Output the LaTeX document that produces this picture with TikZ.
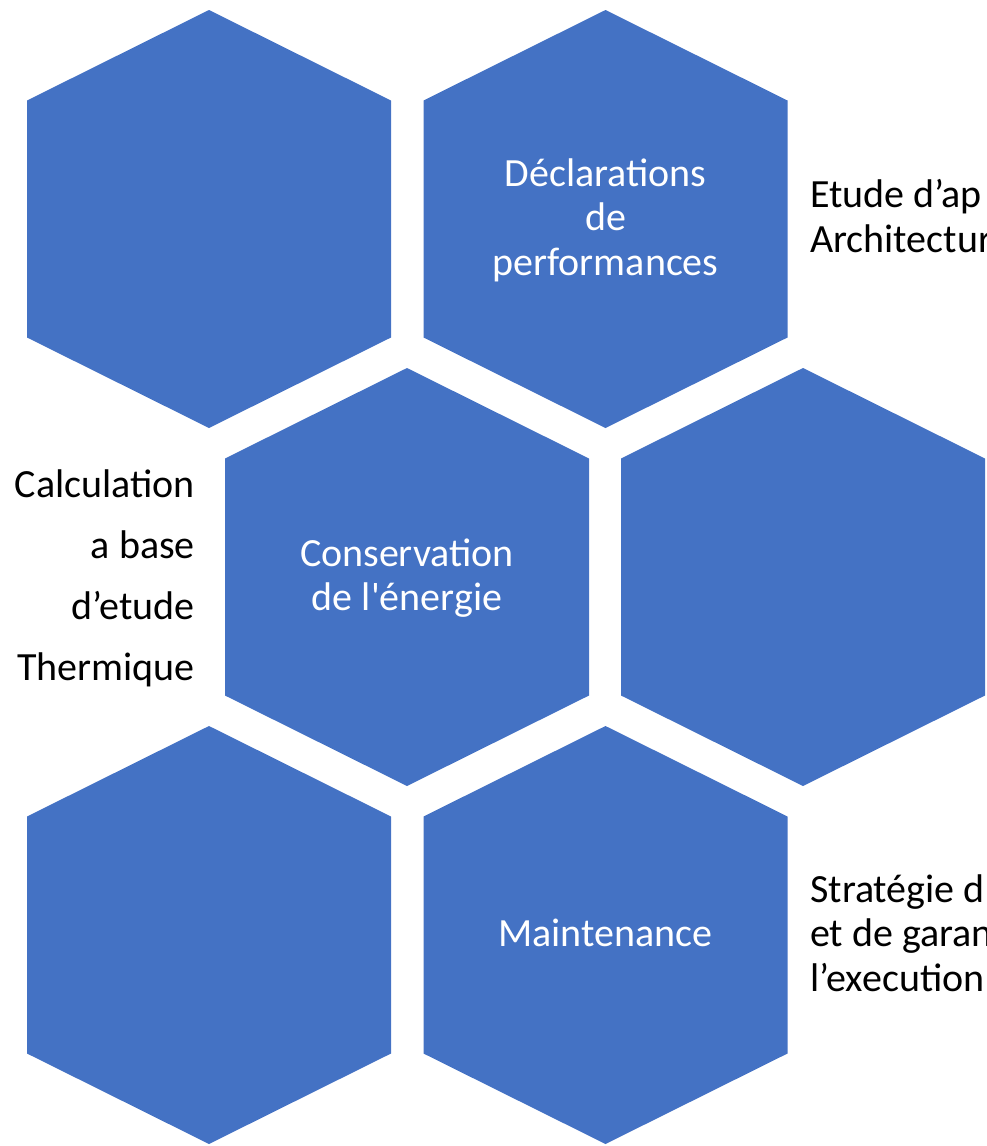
\documentclass[tikz,border=0pt]{standalone}
\usepackage{fontspec}
\setmainfont{Carlito}
\definecolor{hexblue}{HTML}{4472C4}
\begin{document}
\begin{tikzpicture}[x=0.75pt,y=-0.75pt,
  hexfill/.style={fill=hexblue,draw=none},
  intext/.style={text=white,align=center,inner sep=0pt,font=\fontsize{30}{33.4}\selectfont},
  outtext/.style={text=black,inner sep=0pt,font=\fontsize{30}{33.4}\selectfont}]
\useasboundingbox (0,0) rectangle (986,1146);
\clip (0,0) rectangle (986,1146);
\newcommand\hexcell[2]{\path[hexfill] (#1,#2) ++(0,-209) -- ++(182,90.5) -- ++(0,237) -- ++(-182,90.5) -- ++(-182,-90.5) -- ++(0,-237) -- cycle;}
\hexcell{209}{219}
\hexcell{605.5}{219}
\hexcell{407}{577}
\hexcell{803}{577}
\hexcell{209}{935}
\hexcell{605.5}{935}
\node[intext] (decl) at (605.5,220) {Déclarations\\de\\performances};
\node[intext] (cons) at (407,578) {Conservation\\de l\textquotesingle énergie};
\node[intext] (maint) at (605.5,933) {Maintenance};
\node[outtext,anchor=west,align=left] (etude) at (810,216) {Etude d’ap\\Architectur};
\node[outtext,anchor=west,align=left] (strat) at (810,933) {Stratégie d\\et de garan\\l’execution};
\node[outtext,anchor=east,align=right,font=\fontsize{30}{45.75}\selectfont] (calc) at (195,578) {Calculation\\a base\\d’etude\\Thermique};
\end{tikzpicture}
\end{document}
